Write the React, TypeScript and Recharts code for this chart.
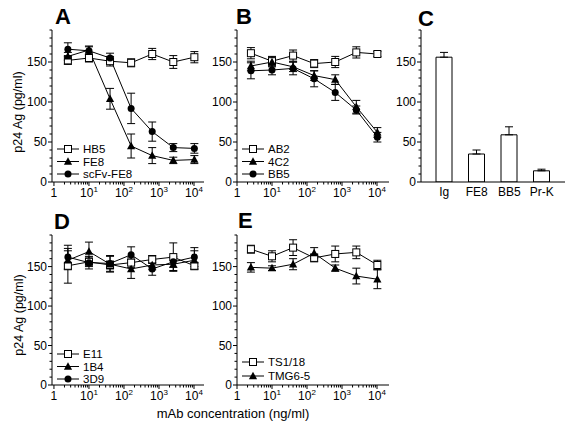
import React from 'react';
import { ComposedChart, Line, XAxis, YAxis, ErrorBar, BarChart, Bar, Legend } from 'recharts';

// ---------- data ----------
const concentrations = [2.5, 10, 40, 160, 640, 2560, 10240];
const xTickValues = [
  1, 2, 3, 4, 5, 6, 7, 8, 9,
  10, 20, 30, 40, 50, 60, 70, 80, 90,
  100, 200, 300, 400, 500, 600, 700, 800, 900,
  1000, 2000, 3000, 4000, 5000, 6000, 7000, 8000, 9000,
  10000,
];
const yTickValues = [0, 10, 20, 30, 40, 50, 60, 70, 80, 90, 100, 110, 120, 130, 140, 150, 160, 170, 180, 190];

// Panel A
const hb5 = [152, 155, 151, 149, 160, 150, 156];
const hb5Err = [5, 5, 6, 5, 7, 8, 7];
const fe8 = [157, 165, 104, 45, 33, 27, 28];
const fe8Err = [5, 5, 13, 15, 10, 4, 5];
const scfvFe8 = [166, 164, 155, 92, 63, 43, 42];
const scfvFe8Err = [8, 5, 6, 19, 12, 5, 6];

// Panel B
const ab2 = [161, 151, 158, 148, 150, 162, 160];
const ab2Err = [7, 6, 7, 5, 7, 7, 3];
const c4c2 = [145, 150, 144, 133, 128, 94, 62];
const c4c2Err = [6, 6, 6, 6, 6, 8, 6];
const bb5 = [139, 140, 142, 129, 112, 90, 56];
const bb5Err = [10, 6, 8, 10, 10, 5, 6];

// Panel C
const barCategories = ['Ig', 'FE8', 'BB5', 'Pr-K'];
const barValues = [156, 35, 59, 14];
const barErrors = [6, 5, 10, 2];

// Panel D
const e11 = [151, 156, 152, 155, 159, 162, 151];
const e11Err = [22, 6, 5, 6, 5, 18, 4];
const b1b4 = [158, 169, 153, 147, 152, 153, 158];
const b1b4Err = [12, 12, 10, 12, 6, 8, 12];
const d3d9 = [162, 155, 154, 165, 147, 156, 162];
const d3d9Err = [15, 8, 10, 10, 8, 7, 12];

// Panel E
const ts118 = [172, 163, 174, 161, 166, 168, 152];
const ts118Err = [5, 7, 10, 5, 10, 8, 6];
const tmg65 = [149, 148, 153, 167, 148, 138, 134];
const tmg65Err = [6, 3, 7, 7, 4, 10, 12];

type Shape = 'square' | 'triangle' | 'circle';
interface Series { name: string; values: number[]; errors: number[]; shape: Shape }

const panelA: Series[] = [
  { name: 'HB5', values: hb5, errors: hb5Err, shape: 'square' },
  { name: 'FE8', values: fe8, errors: fe8Err, shape: 'triangle' },
  { name: 'scFv-FE8', values: scfvFe8, errors: scfvFe8Err, shape: 'circle' },
];
const panelB: Series[] = [
  { name: 'AB2', values: ab2, errors: ab2Err, shape: 'square' },
  { name: '4C2', values: c4c2, errors: c4c2Err, shape: 'triangle' },
  { name: 'BB5', values: bb5, errors: bb5Err, shape: 'circle' },
];
const panelD: Series[] = [
  { name: 'E11', values: e11, errors: e11Err, shape: 'square' },
  { name: '1B4', values: b1b4, errors: b1b4Err, shape: 'triangle' },
  { name: '3D9', values: d3d9, errors: d3d9Err, shape: 'circle' },
];
const panelE: Series[] = [
  { name: 'TS1/18', values: ts118, errors: ts118Err, shape: 'square' },
  { name: 'TMG6-5', values: tmg65, errors: tmg65Err, shape: 'triangle' },
];

const FONT = '"Liberation Sans", Arial, Helvetica, sans-serif';

// ---------- marks ----------
const Marker = ({ cx, cy, shape, size = 7 }: { cx: number; cy: number; shape: Shape; size?: number }) => {
  const h = size / 2;
  if (shape === 'square')
    return <rect x={cx - h} y={cy - h} width={size} height={size} fill="#fff" stroke="#000" strokeWidth={1} />;
  if (shape === 'triangle')
    return (
      <polygon
        points={`${cx},${cy - h - 0.8} ${cx - h - 0.6},${cy + h - 0.3} ${cx + h + 0.6},${cy + h - 0.3}`}
        fill="#000"
      />
    );
  return <circle cx={cx} cy={cy} r={h} fill="#000" />;
};

const XTick = (props: any) => {
  const { x, y, payload } = props;
  const v = payload.value as number;
  const lg = Math.log10(v);
  const e = Math.round(lg);
  const major = Math.abs(lg - e) < 1e-6;
  return (
    <g>
      <line x1={x} x2={x} y1={y} y2={y + (major ? 4 : 2.5)} stroke="#000" strokeWidth={1} />
      {major &&
        (e === 0 ? (
          <text x={x} y={y + 15} textAnchor="middle" fontSize={12} fontFamily={FONT} fill="#000">1</text>
        ) : (
          <text x={x} y={y + 15} textAnchor="middle" fontSize={12} fontFamily={FONT} fill="#000">
            10<tspan dy={-5} fontSize={8}>{e}</tspan>
          </text>
        ))}
    </g>
  );
};

const YTick = (props: any) => {
  const { x, y, payload } = props;
  const v = payload.value as number;
  const major = v % 50 === 0;
  return (
    <g>
      <line x1={x} x2={x - (major ? 4 : 2.5)} y1={y} y2={y} stroke="#000" strokeWidth={1} />
      {major && (
        <text x={x - 5} y={y + 4} textAnchor="end" fontSize={12} fontFamily={FONT} fill="#000">{v}</text>
      )}
    </g>
  );
};

const CatTick = (props: any) => {
  const { x, y, payload } = props;
  return (
    <text x={x} y={y + 14} textAnchor="middle" fontSize={12} fontFamily={FONT} fill="#000">{payload.value}</text>
  );
};

const LegendBox = ({ series, step }: { series: Series[]; step: number }) => (
  <svg width={110} height={series.length * step + 4} style={{ display: 'block', overflow: 'visible' }}>
    {series.map((s, i) => {
      const cy = 6 + i * step;
      return (
        <g key={s.name}>
          <line x1={1} x2={23} y1={cy} y2={cy} stroke="#000" strokeWidth={1} />
          <Marker cx={12} cy={cy} shape={s.shape} />
          <text x={27} y={cy + 4} fontSize={11.5} fontFamily={FONT} fill="#000">{s.name}</text>
        </g>
      );
    })}
  </svg>
);

// ---------- panel geometry ----------
const ML = 45;
const MT = 6;
const MR = 6;
const XH = 28;

interface Rect { x0: number; y0: number; x1: number; y1: number }

const box = (r: Rect) => ({
  position: 'absolute' as const,
  left: r.x0 - ML,
  top: r.y0 - MT,
});

const LinePanel = ({
  rect, series, domain, legendAt, legendStep,
}: { rect: Rect; series: Series[]; domain: [number, number]; legendAt: [number, number]; legendStep: number }) => {
  const width = rect.x1 - rect.x0 + ML + MR;
  const height = rect.y1 - rect.y0 + MT + XH;
  const rows = concentrations.map((c, i) => {
    const row: Record<string, number> = { conc: c };
    series.forEach((s) => {
      row[s.name] = s.values[i];
      row[s.name + '_err'] = s.errors[i];
    });
    return row;
  });
  return (
    <div style={box(rect)}>
      <ComposedChart width={width} height={height} data={rows} margin={{ top: MT, right: MR, left: 0, bottom: 0 }}>
        <XAxis
          dataKey="conc" type="number" scale="log" domain={domain} allowDataOverflow
          ticks={xTickValues} interval={0} tick={<XTick />} tickLine={false} tickSize={0} tickMargin={0}
          height={XH} axisLine={{ stroke: '#000', strokeWidth: 1 }}
        />
        <XAxis xAxisId="top" orientation="top" type="number" domain={[0, 1]} height={0} tick={false} tickLine={false}
          axisLine={{ stroke: '#000', strokeWidth: 1 }} />
        <YAxis
          type="number" domain={[0, 190]} allowDataOverflow ticks={yTickValues} interval={0}
          tick={<YTick />} tickLine={false} tickSize={0} tickMargin={0} width={ML}
          axisLine={{ stroke: '#000', strokeWidth: 1 }}
        />
        <YAxis yAxisId="right" orientation="right" type="number" domain={[0, 1]} width={0} tick={false} tickLine={false}
          axisLine={{ stroke: '#000', strokeWidth: 1 }} />
        {series.map((s) => (
          <Line
            key={s.name}
            dataKey={s.name}
            name={s.name}
            stroke="#000"
            strokeWidth={1}
            isAnimationActive={false}
            dot={(p: any) => <Marker key={`${s.name}-${p.index}`} cx={p.cx} cy={p.cy} shape={s.shape} />}
            activeDot={false}
          >
            <ErrorBar dataKey={s.name + '_err'} direction="y" width={4} stroke="#000" strokeWidth={1} />
          </Line>
        ))}
        <Legend
          layout="vertical" align="center" verticalAlign="middle"
          wrapperStyle={{ left: legendAt[0] - (rect.x0 - ML), top: legendAt[1] - (rect.y0 - MT), width: 110 }}
          content={() => <LegendBox series={series} step={legendStep} />}
        />
      </ComposedChart>
    </div>
  );
};

const BarPanel = ({ rect }: { rect: Rect }) => {
  const width = rect.x1 - rect.x0 + ML + MR;
  const height = rect.y1 - rect.y0 + MT + XH;
  const rows = barCategories.map((c, i) => ({ label: c, value: barValues[i], err: [0, barErrors[i]] }));
  return (
    <div style={box(rect)}>
      <BarChart width={width} height={height} data={rows} margin={{ top: MT, right: MR, left: 0, bottom: 0 }}>
        <XAxis dataKey="label" type="category" padding={{ left: 7, right: 7 }} tick={<CatTick />}
          tickLine={false} tickSize={0} tickMargin={0} height={XH} interval={0}
          axisLine={{ stroke: '#000', strokeWidth: 1 }} />
        <XAxis xAxisId="top" orientation="top" dataKey="label" height={0} tick={false} tickLine={false}
          axisLine={{ stroke: '#000', strokeWidth: 1 }} />
        <YAxis type="number" domain={[0, 190]} allowDataOverflow ticks={yTickValues} interval={0}
          tick={<YTick />} tickLine={false} tickSize={0} tickMargin={0} width={ML}
          axisLine={{ stroke: '#000', strokeWidth: 1 }} />
        <YAxis yAxisId="right" orientation="right" type="number" domain={[0, 1]} width={0} tick={false} tickLine={false}
          axisLine={{ stroke: '#000', strokeWidth: 1 }} />
        <Bar dataKey="value" fill="#fff" stroke="#000" strokeWidth={1} barSize={16} isAnimationActive={false}>
          <ErrorBar dataKey="err" direction="y" width={4} stroke="#000" strokeWidth={1} />
        </Bar>
      </BarChart>
    </div>
  );
};

const rectA: Rect = { x0: 52, y0: 30, x1: 204, y1: 182 };
const rectB: Rect = { x0: 237, y0: 30, x1: 389, y1: 182 };
const rectC: Rect = { x0: 421, y0: 30, x1: 565, y1: 182 };
const rectD: Rect = { x0: 52, y0: 235, x1: 204, y1: 385 };
const rectE: Rect = { x0: 237, y0: 235, x1: 389, y1: 385 };

export default function App() {
  return (
    <div style={{ position: 'absolute', left: 0, top: 0, width: 575, height: 434, background: '#fff', fontFamily: FONT }}>
      <LinePanel rect={rectA} series={panelA} domain={[0.88, 19300]} legendAt={[56, 143]} legendStep={12.5} />
      <LinePanel rect={rectB} series={panelB} domain={[1, 22000]} legendAt={[241, 143]} legendStep={12.5} />
      <BarPanel rect={rectC} />
      <LinePanel rect={rectD} series={panelD} domain={[0.88, 19300]} legendAt={[56, 348]} legendStep={12.5} />
      <LinePanel rect={rectE} series={panelE} domain={[1, 22000]} legendAt={[241, 356]} legendStep={14} />
      <svg width={575} height={434} style={{ position: 'absolute', left: 0, top: 0, pointerEvents: 'none' }}>
        <g fontFamily={FONT} fill="#000">
          <text x={55} y={24} fontSize={22} fontWeight="bold">A</text>
          <text x={236} y={24} fontSize={22} fontWeight="bold">B</text>
          <text x={418} y={26} fontSize={22} fontWeight="bold">C</text>
          <text x={54} y={229} fontSize={22} fontWeight="bold">D</text>
          <text x={238} y={228} fontSize={22} fontWeight="bold">E</text>
          <text transform="translate(22,112) rotate(-90)" textAnchor="middle" fontSize={12.5}>p24 Ag (pg/ml)</text>
          <text transform="translate(23,315) rotate(-90)" textAnchor="middle" fontSize={12.5}>p24 Ag (pg/ml)</text>
          <text x={233} y={418} textAnchor="middle" fontSize={13}>mAb concentration (ng/ml)</text>
        </g>
      </svg>
    </div>
  );
}
